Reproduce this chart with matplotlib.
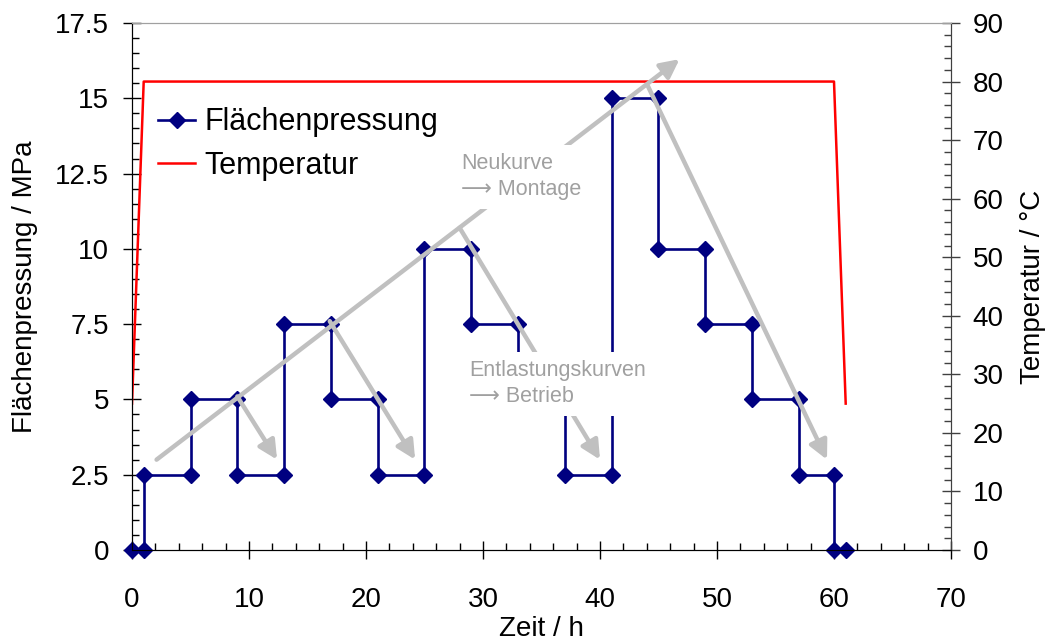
import matplotlib
matplotlib.use("Agg")
import matplotlib.pyplot as plt
from matplotlib.ticker import MultipleLocator

plt.rcParams['font.family'] = ['Liberation Sans', 'DejaVu Sans']

# Flächenpressung (step data, each vertex a data point)
zeit_p = [0, 1, 1, 5, 5, 9, 9, 13, 13, 17, 17, 21, 21, 25, 25, 29, 29, 33, 33, 37, 37, 41,
          41, 45, 45, 49, 49, 53, 53, 57, 57, 60, 60, 61]
druck = [0, 0, 2.5, 2.5, 5, 5, 2.5, 2.5, 7.5, 7.5, 5, 5, 2.5, 2.5, 10, 10, 7.5, 7.5, 5, 5, 2.5, 2.5,
         15, 15, 10, 10, 7.5, 7.5, 5, 5, 2.5, 2.5, 0, 0]

# Temperatur
zeit_t = [0, 1, 60, 61]
temp = [25, 80, 80, 25]

# Arrows (start -> end, in time / MPa)
neukurve_arrow = ((2.1, 3.0), (46.8, 16.3))
entlast_arrows = [((9.0, 5.1), (12.4, 3.0)),
                  ((16.9, 7.6), (24.2, 3.0)),
                  ((28.0, 10.7), (40.0, 3.0)),
                  ((44.1, 15.4), (59.4, 3.0))]

fig = plt.figure(figsize=(10.48, 6.43), dpi=100)
ax = fig.add_axes([132/1048, 1-550/643, (951-132)/1048, (550-23)/643])
ax2 = ax.twinx()

navy = '#000080'
ax.plot(zeit_p, druck, color=navy, lw=1.9, marker='D', markersize=8, label='Flächenpressung',
        zorder=3, clip_on=False)
ax2.plot(zeit_t, temp, color='#ff0000', lw=1.8, label='Temperatur', zorder=2)

ax.set_xlim(0, 70)
ax.set_ylim(0, 17.5)
ax2.set_ylim(0, 90)

fs = 20
ax.xaxis.set_major_locator(MultipleLocator(10))
ax.xaxis.set_minor_locator(MultipleLocator(2))
ax.yaxis.set_minor_locator(MultipleLocator(0.5))
ax2.yaxis.set_major_locator(MultipleLocator(10))
ax2.yaxis.set_minor_locator(MultipleLocator(2))

ax.set_yticks([0, 2.5, 5, 7.5, 10, 12.5, 15, 17.5])
ax.set_yticklabels(['0', '2.5', '5', '7.5', '10', '12.5', '15', '17.5'])

ax.tick_params(axis='both', which='major', direction='inout', length=13, width=1, labelsize=fs,
               color='black')
ax.tick_params(axis='both', which='minor', direction='in', length=5, width=1, color='black')
ax.tick_params(axis='x', which='major', pad=20)
ax.tick_params(axis='y', which='major', pad=10)
ax2.tick_params(axis='y', which='major', direction='inout', length=13, width=1, labelsize=fs,
                color='#404040', pad=9)
ax2.tick_params(axis='y', which='minor', direction='in', length=5, width=1, color='#404040')

for a in (ax, ax2):
    a.spines['top'].set_color('#a0a0a0')
    a.spines['left'].set_color('black')
    a.spines['bottom'].set_color('black')
    a.spines['right'].set_color('#404040')

ax.set_xlabel('Zeit / h', fontsize=20, labelpad=2)
ax.set_ylabel('Flächenpressung / MPa', fontsize=20, labelpad=12)
ax2.set_ylabel('Temperatur / °C', fontsize=20, labelpad=12)

# arrows drawn on top axes, in primary data coordinates
gray = '#c0c0c0'
for (s, e) in [neukurve_arrow] + entlast_arrows:
    ax2.annotate('', xy=e, xytext=s, xycoords=ax.transData, textcoords=ax.transData,
                 arrowprops=dict(arrowstyle='-|>', color=gray, lw=3.2, mutation_scale=28,
                                 shrinkA=0, shrinkB=0), zorder=4)

tcol = '#a0a0a0'
ax2.text(28.1, 12.39, 'Neukurve\n⟶ Montage', transform=ax.transData, fontsize=15.5, color=tcol,
         va='center', ha='left', linespacing=1.3, zorder=5,
         bbox=dict(facecolor='white', edgecolor='none', pad=6))
ax2.text(28.8, 5.52, 'Entlastungskurven\n⟶ Betrieb', transform=ax.transData, fontsize=15.5,
         color=tcol, va='center', ha='left', linespacing=1.3, zorder=5,
         bbox=dict(facecolor='white', edgecolor='none', pad=6))

h1, l1 = ax.get_legend_handles_labels()
h2, l2 = ax2.get_legend_handles_labels()
leg = ax2.legend(h1 + h2, l1 + l2, loc='upper left', bbox_to_anchor=(0.032, 0.84),
                 frameon=False, fontsize=22.0, handlelength=1.2, handletextpad=0.3,
                 labelspacing=0.45, borderaxespad=0, borderpad=0)

fig.savefig('out.png', dpi=100)
